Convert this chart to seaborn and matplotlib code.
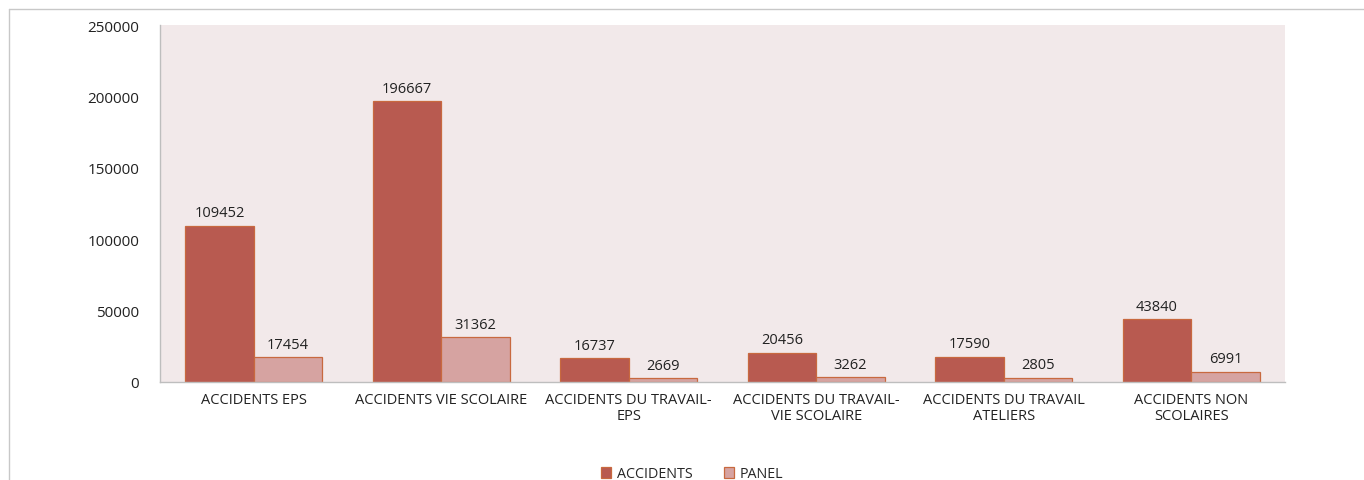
import matplotlib
matplotlib.use("Agg")
import matplotlib.pyplot as plt
from matplotlib.lines import Line2D
import seaborn as sns
import pandas as pd

categories = [
    "ACCIDENTS EPS",
    "ACCIDENTS VIE SCOLAIRE",
    "ACCIDENTS DU TRAVAIL-\nEPS",
    "ACCIDENTS DU TRAVAIL-\nVIE SCOLAIRE",
    "ACCIDENTS DU TRAVAIL\nATELIERS",
    "ACCIDENTS NON\nSCOLAIRES",
]
accidents = [109452, 196667, 16737, 20456, 17590, 43840]
panel = [17454, 31362, 2669, 3262, 2805, 6991]
series_names = ["ACCIDENTS", "PANEL"]
y_ticks = [0, 50000, 100000, 150000, 200000, 250000]

df = pd.DataFrame({
    "categorie": categories * 2,
    "serie": [series_names[0]] * len(categories) + [series_names[1]] * len(categories),
    "valeur": accidents + panel,
})

sns.set_theme(style="white")
plt.rcParams["font.family"] = ["Open Sans", "DejaVu Sans"]

fig = plt.figure(figsize=(13.64, 4.81), dpi=100)
ax = fig.add_axes([160 / 1364, 1 - 383 / 481, (1285 - 160) / 1364, (383 - 26) / 481])
ax.set_facecolor("#F2E9EA")

sns.barplot(
    data=df, x="categorie", y="valeur", hue="serie",
    palette=["#B85A50", "#D6A3A1"], width=0.73,
    edgecolor="#C8693F", linewidth=0.9, saturation=1,
    ax=ax,
)

for cont in ax.containers:
    ax.bar_label(cont, labels=[f"{int(v)}" for v in cont.datavalues],
                 padding=4, fontsize=10.5, color="#222222")

ax.set_ylim(0, 250000)
ax.set_yticks(y_ticks)
ax.set_yticklabels([str(t) for t in y_ticks])
ax.set_xlim(-0.5, len(categories) - 0.5)
ax.set_xlabel("")
ax.set_ylabel("")
ax.tick_params(axis="y", length=0, pad=15, labelsize=11, labelcolor="#222222")
ax.tick_params(axis="x", length=0, pad=7, labelsize=10.5, labelcolor="#222222")
for lbl in ax.get_xticklabels():
    lbl.set_linespacing(1.15)

for side in ["top", "right"]:
    ax.spines[side].set_visible(False)
for side in ["left", "bottom"]:
    ax.spines[side].set_color("#BEBEBE")
    ax.spines[side].set_linewidth(1.0)

handles, labels = ax.get_legend_handles_labels()
ax.legend_.remove()
fig.legend(handles, labels, loc="center", bbox_to_anchor=(692 / 1364, 1 - 475 / 481),
           ncol=2, frameon=False, fontsize=10.3, handlelength=0.7, handleheight=0.7,
           columnspacing=2.2, handletextpad=0.4)

# outer chart frame
fig.add_artist(Line2D([9 / 1364, 1], [1 - 10 / 481, 1 - 10 / 481],
                      transform=fig.transFigure, color="#C8C8C8", lw=1))
fig.add_artist(Line2D([9 / 1364, 9 / 1364], [0, 1 - 10 / 481],
                      transform=fig.transFigure, color="#C8C8C8", lw=1))

fig.savefig("out.png", dpi=100, facecolor="white")
